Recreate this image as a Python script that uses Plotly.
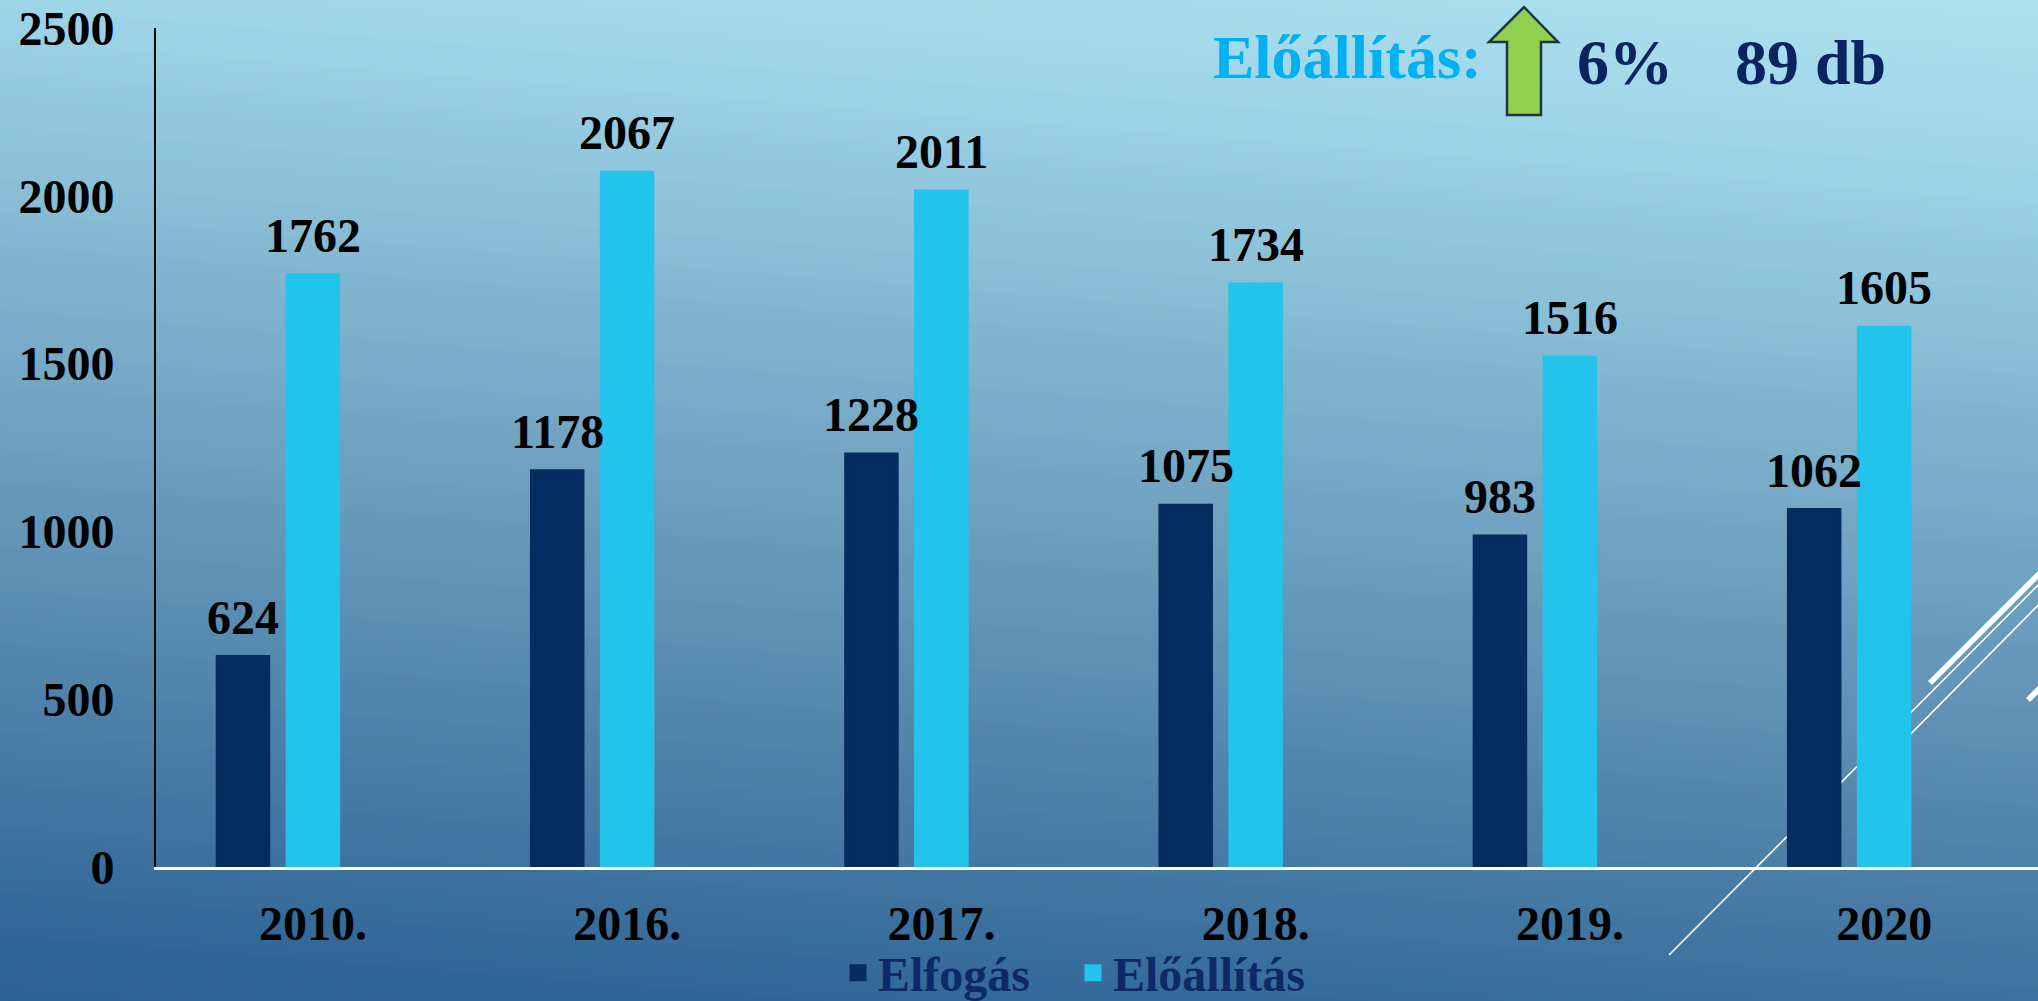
import plotly.graph_objects as go

# ---------------- data ----------------
years = ["2010.", "2016.", "2017.", "2018.", "2019.", "2020"]
elfogas = [624, 1178, 1228, 1075, 983, 1062]
eloallitas = [1762, 2067, 2011, 1734, 1516, 1605]
y_ticks = [0, 500, 1000, 1500, 2000, 2500]
headline_label = "Előállítás:"
headline_pct = "6%"
headline_count = "89 db"

W, H = 2038, 1001
FONT = "Liberation Serif"
DARK = "#062D5F"
LIGHT = "#23C4EC"
NAVY = "#0E2A66"


def px(x):
    return x / W


def py(y):
    return 1 - y / H


def hex2rgb(h):
    h = h.lstrip("#")
    return [int(h[i:i + 2], 16) for i in (0, 2, 4)]


# ---------------- background gradient (diagonal bands) ----------------
stops = [(-170, "#AEE2F0"), (0, "#9ED5E7"), (450, "#6C9EBD"), (950, "#2F6596"), (1010, "#2B6092")]
slope = 0.08


def col_at(c):
    for (c0, h0), (c1, h1) in zip(stops[:-1], stops[1:]):
        if c <= c1:
            t = max(0.0, min(1.0, (c - c0) / (c1 - c0)))
            a, b = hex2rgb(h0), hex2rgb(h1)
            return "rgb(%d,%d,%d)" % tuple(round(a[i] + (b[i] - a[i]) * t) for i in range(3))
    return stops[-1][1]


shapes = []
c_start, c_end, n = -175, 1010, 110
step = (c_end - c_start) / n
for i in range(n):
    c0 = c_start + i * step
    c1 = c0 + step + 1.5
    pts = [(0, c0), (W, c0 + slope * W), (W, c1 + slope * W), (0, c1)]
    path = "M " + " L ".join("%.5f,%.5f" % (px(x), py(y)) for x, y in pts) + " Z"
    shapes.append(dict(type="path", xref="paper", yref="paper", path=path,
                       fillcolor=col_at(c0 + step / 2), line=dict(width=0), layer="below"))

# decorative white lines (behind bars)
for (x0, y0, x1, y1, w) in [(1669, 955, 2060, 563, 1.6), (1880, 765, 2060, 583, 1.6),
                             (1930, 683, 2060, 553, 5.5), (2028, 700, 2060, 668, 5.5)]:
    shapes.append(dict(type="line", xref="paper", yref="paper",
                       x0=px(x0), y0=py(y0), x1=px(x1), y1=py(y1),
                       line=dict(color="white", width=w), layer="below"))

# green up arrow
arrow = [(1524, 7), (1558, 42), (1541, 42), (1541, 115), (1507, 115), (1507, 42), (1489, 42)]
shapes.append(dict(type="path", xref="paper", yref="paper",
                   path="M " + " L ".join("%.5f,%.5f" % (px(x), py(y)) for x, y in arrow) + " Z",
                   fillcolor="#92D050", line=dict(color="#1B3448", width=2.5), layer="above"))

# ---------------- bars ----------------
X_RANGE = [-0.388, 5.601]
X_DOMAIN = [px(156), 1]
PX_PER_UNIT = (X_DOMAIN[1] - X_DOMAIN[0]) * W / (X_RANGE[1] - X_RANGE[0])
LW = 5                          # same-colour outline (also enlarges the legend swatch)
s = (LW / 2) / PX_PER_UNIT      # outline half-width in category units
bw_vis = 0.1735
gap = 0.0245
label_font = dict(family=FONT, size=48, color="black", weight="bold")

fig = go.Figure()
fig.add_trace(go.Bar(x=years, y=eloallitas, name="Előállítás",
                     marker=dict(color=LIGHT, line=dict(width=LW, color=LIGHT)),
                     width=bw_vis - 2 * s, offset=gap + s))
fig.add_trace(go.Bar(x=years, y=elfogas, name="Elfogás",
                     marker=dict(color=DARK, line=dict(width=LW, color=DARK)),
                     width=bw_vis - 2 * s, offset=-(gap + bw_vis) + s))

# value labels above each bar (category position index + value, through the axes)
center_shift = (gap + bw_vis / 2) * PX_PER_UNIT
annotations = []
for series, sign in ((elfogas, -1), (eloallitas, 1)):
    for idx, v in enumerate(series):
        annotations.append(dict(x=idx, y=v, xref="x", yref="y", text=str(v), showarrow=False,
                                xanchor="center", yanchor="bottom", xshift=sign * center_shift, yshift=12,
                                font=label_font))

annotations += [
    dict(text=headline_label, xref="paper", yref="paper", x=px(1211), y=py(57), xanchor="left", yanchor="middle",
         showarrow=False, font=dict(family=FONT, size=62, color="#00B0F0", weight="bold")),
    dict(text=headline_pct, xref="paper", yref="paper", x=px(1575), y=py(62), xanchor="left", yanchor="middle",
         showarrow=False, font=dict(family=FONT, size=64, color="#0B2461", weight="bold")),
    dict(text=headline_count, xref="paper", yref="paper", x=px(1733), y=py(62), xanchor="left", yanchor="middle",
         showarrow=False, font=dict(family=FONT, size=64, color="#0B2461", weight="bold")),
]

fig.update_layout(
    width=W, height=H,
    margin=dict(l=0, r=0, t=0, b=0, pad=0, autoexpand=False),
    paper_bgcolor="#2F6596",
    plot_bgcolor="rgba(0,0,0,0)",
    barmode="overlay",
    shapes=shapes,
    annotations=annotations,
    showlegend=True,
    legend=dict(orientation="h", x=px(838), xanchor="left", y=py(973), yanchor="middle",
                font=dict(family=FONT, size=48, color=NAVY, weight="bold"),
                bgcolor="rgba(0,0,0,0)", entrywidth=190, traceorder="reversed"),
    xaxis=dict(domain=X_DOMAIN, range=X_RANGE, type="category",
               showgrid=False, zeroline=False, showline=True, linecolor="white", linewidth=3,
               ticks="", tickfont=dict(family=FONT, size=48, color="black", weight="bold"),
               ticklabelstandoff=12, ticklabelshift=35, automargin=False),
    yaxis=dict(domain=[py(867), py(28)], range=[0, 2500], tickvals=y_ticks,
               showgrid=False, zeroline=False, showline=True, linecolor="black", linewidth=2,
               ticks="", tickfont=dict(family=FONT, size=48, color="black", weight="bold"),
               ticklabelstandoff=30, automargin=False),
)

fig.write_html("out.html", config={"displayModeBar": False},
               post_script="document.body.style.margin='0';document.body.style.overflow='hidden';")
